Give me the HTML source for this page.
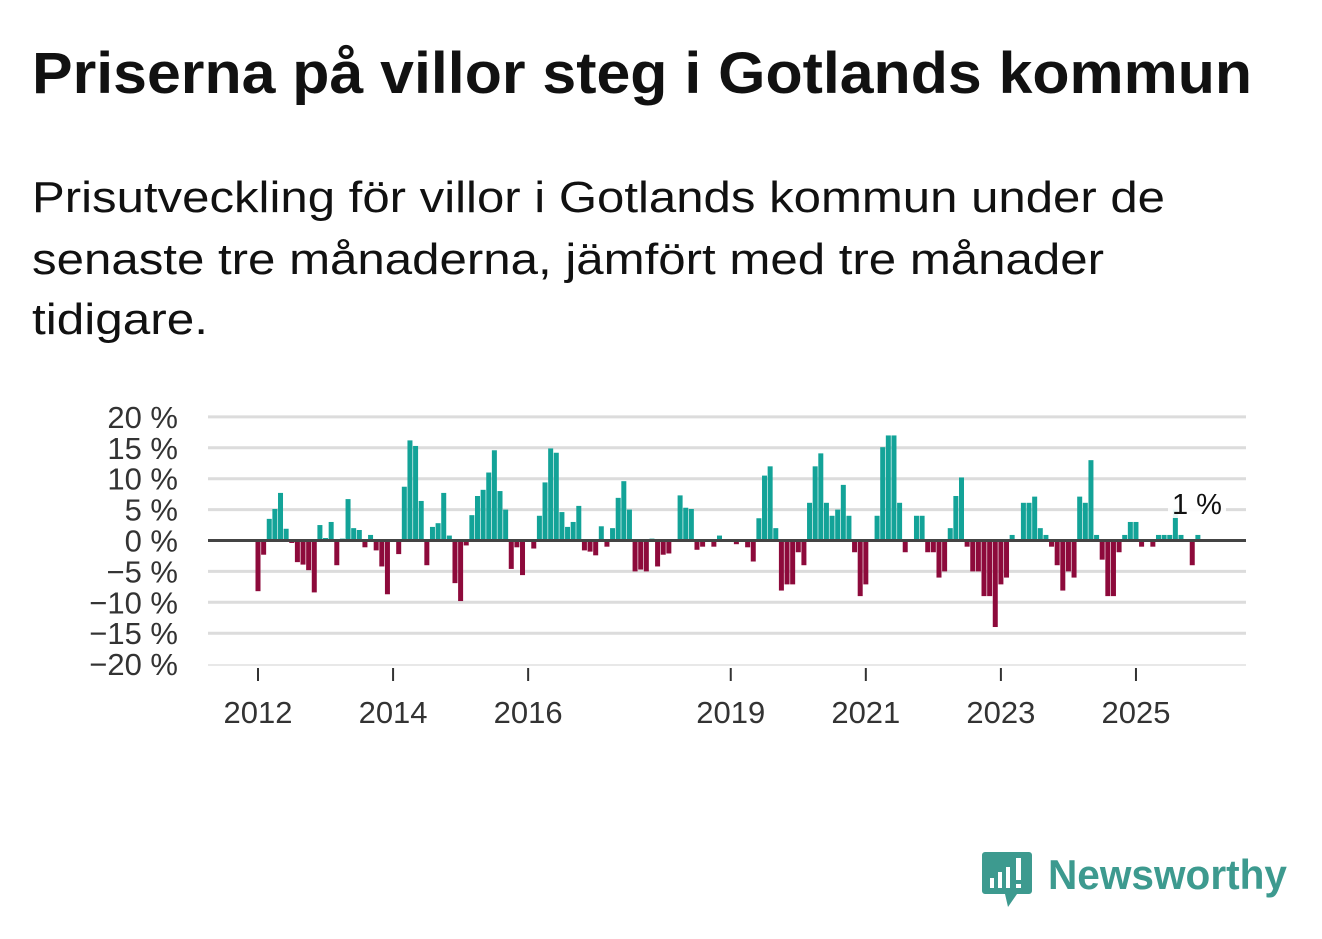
<!DOCTYPE html>
<html><head><meta charset="utf-8"><style>
html,body{margin:0;padding:0;background:#fff;}
svg{display:block;font-family:"Liberation Sans",sans-serif;}
</style></head><body>
<svg id="chart" width="1322" height="939" viewBox="0 0 1322 939" xmlns="http://www.w3.org/2000/svg">
<text x="32" y="93" font-size="58" font-weight="bold" fill="#111" textLength="1220" lengthAdjust="spacingAndGlyphs">Priserna på villor steg i Gotlands kommun</text>
<g font-size="44" fill="#111">
<text x="32" y="212" textLength="1133" lengthAdjust="spacingAndGlyphs">Prisutveckling för villor i Gotlands kommun under de</text>
<text x="32" y="274" textLength="1072" lengthAdjust="spacingAndGlyphs">senaste tre månaderna, jämfört med tre månader</text>
<text x="32" y="334" textLength="176" lengthAdjust="spacingAndGlyphs">tidigare.</text>
</g>
<g id="grid"></g>
<g id="yaxis"></g>
<g id="bars"></g>
<g id="xaxis"></g>
<g id="anno"></g>
<g>
<path d="M985 852 h44 a3 3 0 0 1 3 3 v36 a3 3 0 0 1 -3 3 h-12 l-9 13 l-3 -13 h-20 a3 3 0 0 1 -3 -3 v-36 a3 3 0 0 1 3 -3z" fill="#3d9a8f"/>
<rect x="990" y="878" width="4" height="10" fill="#fff"/>
<rect x="998" y="872" width="4" height="16" fill="#fff"/>
<rect x="1006" y="867" width="4" height="21" fill="#fff"/>
<rect x="1016" y="858" width="5" height="22" fill="#fff"/>
<rect x="1016" y="884" width="5" height="4" fill="#fff"/>
<text x="1048" y="889" font-size="42" font-weight="bold" fill="#3d9a8f" textLength="239" lengthAdjust="spacingAndGlyphs">Newsworthy</text>
</g>
</svg>
<script>
const values = [-8.2,-2.3,3.5,5.1,7.7,1.9,-0.4,-3.5,-3.9,-4.8,-8.4,2.5,0.4,3,-4,0.3,6.7,2,1.7,-1.1,0.9,-1.6,-4.2,-8.7,0,-2.2,8.7,16.2,15.3,6.4,-4,2.2,2.8,7.7,0.8,-6.9,-9.8,-0.8,4.1,7.2,8.2,11,14.6,8,5,-4.6,-1.1,-5.6,0,-1.3,4,9.4,14.9,14.2,4.6,2.2,3,5.6,-1.6,-1.8,-2.4,2.3,-1,2,6.9,9.6,5,-5,-4.7,-5,0.3,-4.2,-2.3,-2.1,0,7.3,5.3,5.1,-1.5,-1,0,-1,0.8,0,0,-0.6,0,-1.1,-3.4,3.6,10.5,12,2,-8.1,-7.1,-7.1,-1.9,-4,6.1,12,14.1,6.1,4,5,9,4,-1.9,-9,-7.1,0,4,15.1,17,17,6.1,-1.9,0,4,4,-1.9,-1.9,-6,-5,2,7.2,10.2,-1,-5,-5,-9,-9,-14,-7.1,-6,0.9,0,6.1,6.1,7.1,2,0.9,-1,-4,-8.1,-5,-6,7.1,6.1,13,0.9,-3.1,-9,-9,-1.9,0.9,3,3,-1,0,-1,0.9,0.9,0.9,5,0.9,0,-4,0.9];
const yTicks = [20,15,10,5,0,-5,-10,-15,-20];
const yTickLabels = ["20 %","15 %","10 %","5 %","0 %","\u22125 %","\u221210 %","\u221215 %","\u221220 %"];
const xYears = [2012,2014,2016,2019,2021,2023,2025];
const annotationText = "1 %";
const startYear = 2012;

const NS="http://www.w3.org/2000/svg";
const x0=258, mw=5.628, left=208, right=1246;
const y=v=>540.5-v*6.18;
const x=i=>x0+i*mw;
function mk(t,a,p){const e=document.createElementNS(NS,t);for(const k in a)e.setAttribute(k,a[k]);p.appendChild(e);return e;}
const grid=document.getElementById('grid'),ya=document.getElementById('yaxis'),bars=document.getElementById('bars'),xa=document.getElementById('xaxis'),an=document.getElementById('anno');
yTicks.forEach((t,k)=>{
  if(t!==0&&t!==-20){const l=mk('line',{x1:left,x2:right,y1:y(t),y2:y(t),stroke:'#dcdcdc','stroke-width':3},grid);
  
  }
  const tx=mk('text',{x:178,y:y(t)+11,'text-anchor':'end','font-size':31,fill:'#333'},ya);
  
  
  tx.textContent=yTickLabels[k];
});
const bl=mk('line',{x1:left,x2:right,y1:665,y2:665,stroke:'#e0e0e0','stroke-width':1.5},grid);


values.forEach((v,i)=>{
  if(v===0)return;
  const r=mk('rect',{x:x(i)-2.5,width:5,y:Math.min(y(v),y(0)),height:Math.abs(y(v)-y(0)),fill:v>0?'#13a398':'#8d0a3b'},bars);
  
  
});
const zl=mk('line',{x1:left,x2:right,y1:y(0),y2:y(0),stroke:'#444','stroke-width':3},bars);


xYears.forEach(yr=>{
  const px=x((yr-startYear)*12);
  const tk=mk('line',{x1:px,x2:px,y1:668,y2:681,stroke:'#333','stroke-width':2},xa);
  
  
  const tx=mk('text',{x:px,y:723,'text-anchor':'middle','font-size':31,fill:'#333'},xa);
  
  
  tx.textContent=yr;
});
const li=values.length-1;
const bg=mk('rect',{x:1168,y:488,width:58,height:30,fill:'#fff',opacity:0.9},an);


const at=mk('text',{x:1197,y:514,'text-anchor':'middle','font-size':29,fill:'#111'},an);


at.textContent=annotationText;
</script>
</body></html>
